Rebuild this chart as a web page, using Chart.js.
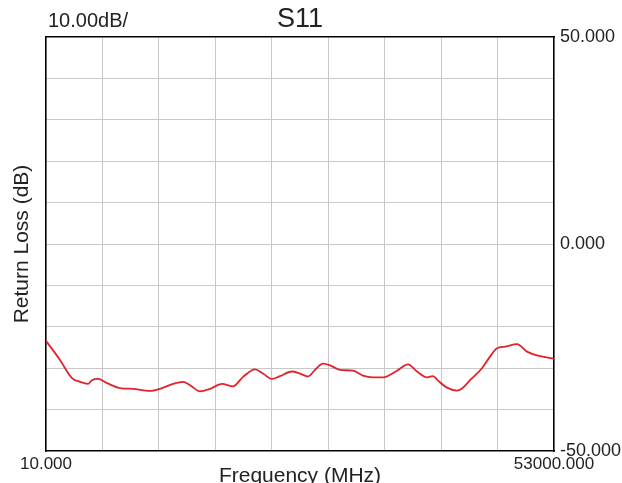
<!DOCTYPE html>
<html>
<head>
<meta charset="utf-8">
<script src="https://cdn.jsdelivr.net/npm/chart.js@4"></script>
<style>
    html, body { margin: 0; padding: 0; background: #fff; }
    #wrap { width: 622px; height: 483px; }
</style>
</head>
<body>
<div id="wrap"><canvas id="chart" width="622" height="483"></canvas></div>
<script>
// Trace (MHz, dB)
const freqMHz = [10, 1470, 2722, 3557, 4391, 4808, 5434, 6373, 7729, 9085,
    10858, 11901, 13258, 14301, 15031, 16074, 17117, 18369, 19516, 20559,
    21811, 22645, 23584, 24419, 25670, 26505, 27339, 28069, 28904, 29634,
    30677, 32033, 33076, 34120, 35163, 36623, 37771, 38709, 39752, 40378,
    40900, 41839, 42882, 43404, 44238, 45490, 46324, 47054, 47889, 49141,
    50184, 51540, 53000];
const returnLossDb = [-23.4, -28.0, -32.4, -33.3, -33.8, -32.9, -32.6, -33.6, -34.8, -35.0,
    -35.5, -35.0, -33.8, -33.3, -34.1, -35.6, -35.0, -33.8, -34.4, -32.1,
    -30.3, -31.3, -32.6, -31.9, -30.8, -31.3, -32.0, -30.4, -28.9, -29.3,
    -30.4, -30.6, -31.8, -32.2, -32.2, -30.6, -29.1, -30.8, -32.2, -31.9,
    -33.0, -34.7, -35.4, -34.9, -32.9, -30.0, -27.2, -25.2, -24.8, -24.2,
    -26.0, -27.1, -27.7];

// Sweep / display settings
const startFreq = 10;
const stopFreq = 53000;
const xDivisions = 9;
const refTop = 50;
const refBottom = -50;
const dbPerDiv = 10;
const yLabelValues = [-50, 0, 50];

const fontFamily = '"Liberation Sans", Arial, sans-serif';
const textColor = '#222';
const gridColor = '#c8c8c8';

// grid columns spread evenly over the sweep
const xGridValues = [];
for (let i = 0; i <= xDivisions; i++) {
    xGridValues.push(startFreq + i * (stopFreq - startFreq) / xDivisions);
}

// hide grid lines on the frame so the black border stays clean
const edgeGrid = (ctx) => {
    const n = ctx.scale.ticks.length;
    return (ctx.index === 0 || ctx.index === n - 1) ? 'rgba(0,0,0,0)' : gridColor;
};

// Top texts: scale per division and trace name
const headerText = {
    id: 'headerText',
    afterDraw: (chart) => {
        const {ctx, chartArea} = chart;
        ctx.save();
        ctx.fillStyle = textColor;
        ctx.textBaseline = 'middle';
        ctx.font = `27px ${fontFamily}`;
        ctx.textAlign = 'center';
        ctx.fillText('S11', (chartArea.left + chartArea.right) / 2, 20);
        ctx.font = `20px ${fontFamily}`;
        ctx.textAlign = 'left';
        ctx.fillText(`${dbPerDiv.toFixed(2)}dB/`, chartArea.left + 2, 21);
        ctx.restore();
    }
};

const points = freqMHz.map((f, i) => ({x: f, y: returnLossDb[i]}));

new Chart(document.getElementById('chart').getContext('2d'), {
    type: 'line',
    data: {
        datasets: [{
            label: 'S11',
            data: points,
            borderColor: '#e3222b',
            borderWidth: 1.8,
            pointRadius: 0,
            fill: false,
            tension: 0.4,
            cubicInterpolationMode: 'monotone'
        }]
    },
    options: {
        responsive: false,
        animation: false,
        layout: {padding: {top: 37, left: 0, right: 0, bottom: 0}},
        plugins: {
            legend: {display: false},
            tooltip: {enabled: false}
        },
        scales: {
            x: {
                type: 'linear',
                position: 'bottom',
                min: startFreq,
                max: stopFreq,
                afterBuildTicks: (scale) => {
                    scale.ticks = xGridValues.map(v => ({value: v}));
                },
                afterFit: (scale) => { scale.height = 32; },
                grid: {color: edgeGrid, lineWidth: 1, drawTicks: false},
                border: {display: true, color: '#000', width: 1.6},
                ticks: {
                    autoSkip: false,
                    maxRotation: 0,
                    padding: 3,
                    color: textColor,
                    font: {family: fontFamily, size: 17},
                    callback: (v, i, ticks) => (i === 0 || i === ticks.length - 1) ? v.toFixed(3) : ''
                },
                title: {
                    display: true,
                    text: 'Frequency (MHz)',
                    color: textColor,
                    font: {family: fontFamily, size: 21, lineHeight: 0.6},
                    padding: {top: 0, bottom: 0}
                }
            },
            xTop: {
                type: 'linear',
                position: 'top',
                min: startFreq,
                max: stopFreq,
                afterFit: (scale) => { scale.height = 0; },
                grid: {display: false},
                border: {display: true, color: '#000', width: 1.6},
                ticks: {display: false}
            },
            y: {
                type: 'linear',
                position: 'right',
                min: refBottom,
                max: refTop,
                afterFit: (scale) => { scale.width = 68; },
                grid: {color: edgeGrid, lineWidth: 1, drawTicks: false},
                border: {display: true, color: '#000', width: 1.6},
                ticks: {
                    stepSize: dbPerDiv,
                    padding: 6,
                    color: textColor,
                    font: {family: fontFamily, size: 18},
                    callback: (v) => yLabelValues.includes(v) ? v.toFixed(3) : ''
                }
            },
            yLeft: {
                type: 'linear',
                position: 'left',
                min: refBottom,
                max: refTop,
                afterFit: (scale) => { scale.width = 46; },
                grid: {display: false},
                border: {display: true, color: '#000', width: 1.6},
                ticks: {display: false},
                title: {
                    display: true,
                    text: 'Return Loss (dB)',
                    color: textColor,
                    font: {family: fontFamily, size: 21},
                    padding: {top: 10, bottom: 0}
                }
            }
        }
    },
    plugins: [headerText]
});
</script>
</body>
</html>
